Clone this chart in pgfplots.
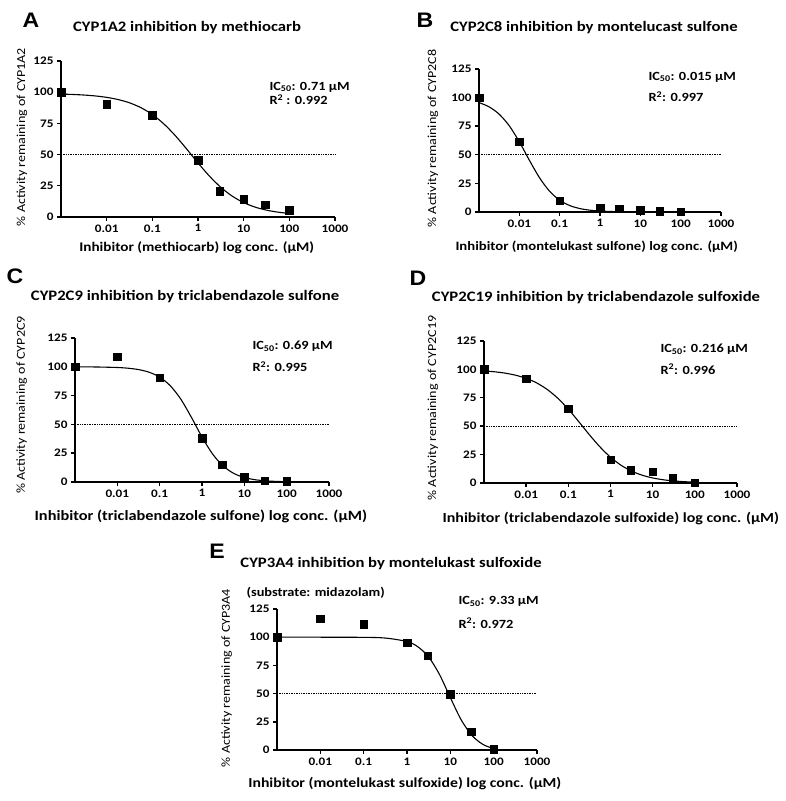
\documentclass[border=0pt]{standalone}
\usepackage{pgfplots}
\pgfplotsset{compat=1.18}
\usepackage{fontspec}
\setmainfont{Carlito}[FakeStretch=1.15]
\newfontfamily\letterfont{Liberation Sans}[FakeStretch=1.1]
\pgfplotsset{
    scale only axis, axis lines=left,
    axis line style={-, line width=2pt},
    xmin=-3, xmax=3, ymin=0, ymax=125,
    xtick={-2,-1,0,1,2,3},
    xticklabels={0.01,0.1,1,10,100,1000},
    ytick={0,25,50,75,100,125},
    yticklabels={0,25,50,75,100,125},
    tick align=outside, major tick length=4pt,
    tick style={line width=1.4pt, black},
    tick label style={font=\fontsize{11.5}{13}\selectfont\bfseries},
    clip=false,
}
\tikzset{
  myfit/.style={smooth, line width=1.1pt, black},
  mypts/.style={only marks, mark=square*, mark size=3.8pt, black},
  myhalf/.style={densely dotted, line width=0.7pt, black},
}
\newcommand{\lettr}[1]{{\letterfont\bfseries\fontsize{21}{23}\selectfont #1}}
\newcommand{\ttl}{\fontsize{14.5}{16}\selectfont\bfseries}
\newcommand{\ylbl}{\fontsize{12.2}{14}\selectfont}
\newcommand{\lbl}[1]{\fontsize{#1}{14}\selectfont\bfseries}
\newcommand{\stat}{\fontsize{12.5}{14}\selectfont\bfseries}
\begin{document}
\begin{tikzpicture}
\path[use as bounding box] (0pt,0pt) rectangle (785pt,801pt);

% x values are log10 of the concentration in uM
% ---------- A ----------
\node at (31pt,781pt) {\lettr{A}};
\node at (187pt,773pt) {\ttl CYP1A2 inhibition by methiocarb};
\node[anchor=west] at (266pt,714pt) {\stat IC\textsubscript{50}: 0.71 µM};
\node[anchor=west] at (266pt,701pt) {\stat R\textsuperscript{2} : 0.992};
\node[rotate=90] at (22pt,664pt) {\ylbl \% Activity remaining of CYP1A2};
\node at (195pt,553pt) {\lbl{13.2} Inhibitor (methiocarb) log conc. (µM)};
\begin{axis}[at={(61pt,584pt)}, anchor=south west, width=274pt, height=156pt]
\addplot[myhalf] coordinates {(-3,50) (3,50)};
\addplot[myfit] coordinates {
(-3,98.49) (-2.75,98.19) (-2.5,97.73) (-2.25,97.00) (-2,95.87)
(-1.75,94.12) (-1.5,91.49) (-1.25,87.61) (-1,82.10) (-0.75,74.66)
(-0.5,65.32) (-0.25,54.56) (0,43.33) (0.25,32.78) (0.5,23.77)
(0.75,16.72) (1,11.54) (1.25,7.93) (1.5,5.49) (1.75,3.88) (2,2.84)};
\addplot[mypts] coordinates {
(-3,100) (-2,90.5) (-1,81.7) (0,45.6) (0.4771,20.6) (1,14.2) (1.4771,9.7) (2,5.5)};
\end{axis}

% ---------- B ----------
\node at (425pt,781pt) {\lettr{B}};
\node at (594pt,773pt) {\ttl CYP2C8 inhibition by montelucast sulfone};
\node[anchor=west] at (645pt,724pt) {\stat IC\textsubscript{50}: 0.015 µM};
\node[anchor=west] at (645pt,704pt) {\stat R\textsuperscript{2}: 0.997};
\node[rotate=90] at (433pt,662.5pt) {\ylbl \% Activity remaining of CYP2C8};
\node at (595pt,554pt) {\lbl{12.8} Inhibitor (montelukast sulfone) log conc. (µM)};
\begin{axis}[at={(479pt,589pt)}, anchor=south west, width=242pt, height=143pt]
\addplot[myhalf] coordinates {(-3,50) (3,50)};
\addplot[myfit] coordinates {
(-3,95.64) (-2.75,91.92) (-2.5,85.50) (-2.25,75.37) (-2,61.35)
(-1.75,45.16) (-1.5,29.94) (-1.25,18.15) (-1,10.31) (-0.75,5.63)
(-0.5,3.00) (-0.25,1.58) (0,0.83) (0.5,0.22) (1,0.06) (2,0.0)};
\addplot[mypts] coordinates {
(-3,100) (-2,61.3) (-1,9.9) (0,3.8) (0.4771,2.9) (1,1.7) (1.4771,0.9) (2,0.3)};
\end{axis}

% ---------- C ----------
\node at (15pt,525pt) {\lettr{C}};
\node at (185pt,504.3pt) {\ttl CYP2C9 inhibition by triclabendazole sulfone};
\node[anchor=west] at (249pt,455pt) {\stat IC\textsubscript{50}: 0.69 µM};
\node[anchor=west] at (249pt,434pt) {\stat R\textsuperscript{2}: 0.995};
\node[rotate=90] at (21.7pt,396pt) {\ylbl \% Activity remaining of CYP2C9};
\node at (199pt,284.3pt) {\lbl{14.2} Inhibitor (triclabendazole sulfone) log conc. (µM)};
\begin{axis}[at={(75pt,319pt)}, anchor=south west, width=254pt, height=144pt]
\addplot[myhalf] coordinates {(-3,50) (3,50)};
\addplot[myfit] coordinates {
(-3,99.96) (-2.5,99.84) (-2,99.38) (-1.75,98.78) (-1.5,97.59)
(-1.25,95.30) (-1,91.04) (-0.75,83.59) (-0.5,71.86) (-0.25,56.13)
(0,39.05) (0.25,24.31) (0.5,13.87) (0.75,7.47) (1,3.89) (1.25,1.99)
(1.5,1.01) (1.75,0.51) (2,0.25)};
\addplot[mypts] coordinates {
(-3,100) (-2,108.6) (-1,90.7) (0,38.0) (0.4771,15.0) (1,4.0) (1.4771,1.2) (2,0.9)};
\end{axis}

% ---------- D ----------
\node at (418pt,523pt) {\lettr{D}};
\node at (596pt,503.3pt) {\ttl CYP2C19 inhibition by triclabendazole sulfoxide};
\node[anchor=west] at (657pt,451.7pt) {\stat IC\textsubscript{50}: 0.216 µM};
\node[anchor=west] at (657pt,431.7pt) {\stat R\textsuperscript{2}: 0.996};
\node[rotate=90] at (433pt,393pt) {\ylbl \% Activity remaining of CYP2C19};
\node at (609pt,282.7pt) {\lbl{13.9} Inhibitor (triclabendazole sulfoxide) log conc. (µM)};
\begin{axis}[at={(484pt,318pt)}, anchor=south west, width=253pt, height=142pt]
\addplot[myhalf] coordinates {(-3,50) (3,50)};
\addplot[myfit] coordinates {
(-3,98.66) (-2.75,97.90) (-2.5,96.71) (-2.25,94.88) (-2,92.12)
(-1.75,88.07) (-1.5,82.32) (-1.25,74.60) (-1,64.96) (-0.75,53.88)
(-0.5,42.44) (-0.25,31.76) (0,22.70) (0.25,15.63) (0.5,10.46)
(0.75,6.87) (1,4.44) (1.25,2.85) (1.5,1.82) (1.75,1.16) (2,0.73)};
\addplot[mypts] coordinates {
(-3,100) (-2,91.9) (-1,65.3) (0,20.5) (0.4771,11.4) (1,10.0) (1.4771,4.7) (2,0.3)};
\end{axis}

% ---------- E ----------
\node at (217pt,249.3pt) {\lettr{E}};
\node at (391pt,237.7pt) {\ttl CYP3A4 inhibition by montelukast sulfoxide};
\node[anchor=west] at (243pt,208.3pt) {\stat (substrate: midazolam)};
\node[anchor=west] at (455pt,199.3pt) {\stat IC\textsubscript{50}: 9.33 µM};
\node[anchor=west] at (455pt,178pt) {\stat R\textsuperscript{2}: 0.972};
\node[rotate=90] at (226.7pt,123pt) {\ylbl \% Activity remaining of CYP3A4};
\node at (403pt,17.7pt) {\lbl{13.7} Inhibitor (montelukast sulfoxide) log conc. (µM)};
\begin{axis}[at={(277pt,51pt)}, anchor=south west, width=260pt, height=141pt]
\addplot[myhalf] coordinates {(-3,50) (3,50)};
\addplot[myfit] coordinates {
(-3,100.0) (-2,100.0) (-1,99.86) (-0.5,99.25) (0,96.15) (0.25,91.54)
(0.5,82.42) (0.75,66.93) (1,46.45) (1.25,26.76) (1.5,12.85)
(1.75,5.02) (2,1.17)};
\addplot[mypts] coordinates {
(-3,100) (-2,116.4) (-1,111.7) (0,95.1) (0.4771,83.5) (1,49.5) (1.4771,16.3) (2,0.9)};
\end{axis}
\end{tikzpicture}
\end{document}
